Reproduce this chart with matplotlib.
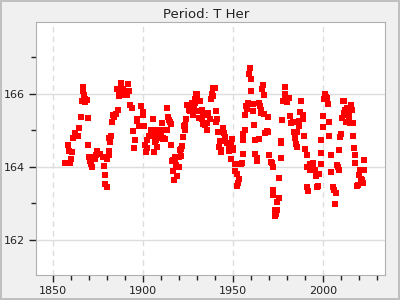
import matplotlib
matplotlib.use("Agg")
import matplotlib.pyplot as plt
from matplotlib.ticker import MultipleLocator

years = [
    1856.7, 1858.3, 1858.9, 1859.7, 1859.5, 1860.6, 1861.1, 1861.9, 1863.0, 1864.0,
    1864.5, 1865.6, 1866.0, 1866.7, 1866.7, 1866.8, 1867.4, 1867.5, 1868.7, 1869.3,
    1869.3, 1870.0, 1870.4, 1870.8, 1871.5, 1871.9, 1873.0, 1873.7, 1874.5, 1876.0,
    1877.4, 1878.2, 1879.0, 1879.0, 1879.8, 1879.3, 1880.0, 1880.7, 1881.1, 1881.1,
    1881.5, 1882.2, 1882.6, 1883.3, 1884.0, 1884.8, 1885.5, 1885.9, 1886.3, 1886.6,
    1887.8, 1888.9, 1889.3, 1890.7, 1891.5, 1892.2, 1892.6, 1893.7, 1894.5, 1894.8,
    1895.6, 1896.3, 1896.7, 1897.8, 1898.9, 1898.9, 1899.6, 1900.0, 1900.4, 1901.1,
    1901.5, 1901.9, 1902.2, 1903.0, 1904.1, 1904.1, 1905.2, 1905.6, 1905.9, 1906.3,
    1906.7, 1907.0, 1907.8, 1908.5, 1908.9, 1909.9, 1910.0, 1910.2, 1910.4, 1911.1,
    1911.2, 1911.9, 1912.6, 1913.0, 1913.0, 1913.7, 1913.9, 1914.4, 1914.9, 1915.2,
    1915.6, 1915.9, 1916.3, 1916.7, 1917.0, 1917.4, 1917.6, 1917.8, 1918.1, 1918.9,
    1919.5, 1919.6, 1920.0, 1920.4, 1920.8, 1921.1, 1921.5, 1921.9, 1922.3, 1922.6,
    1923.0, 1923.2, 1923.7, 1924.4, 1924.5, 1925.2, 1925.9, 1926.0, 1927.0, 1927.4,
    1927.8, 1928.1, 1928.6, 1928.9, 1929.3, 1929.6, 1930.0, 1930.7, 1930.8, 1931.1,
    1931.5, 1932.4, 1932.4, 1933.0, 1933.4, 1933.7, 1934.3, 1934.5, 1935.2, 1935.6,
    1936.1, 1936.2, 1937.1, 1937.8, 1938.0, 1938.6, 1938.9, 1939.6, 1940.4, 1940.8,
    1940.4, 1941.5, 1942.6, 1942.2, 1943.0, 1943.4, 1944.5, 1944.8, 1945.2, 1945.6,
    1946.3, 1947.4, 1947.8, 1948.5, 1949.3, 1949.6, 1950.0, 1948.5, 1950.8, 1951.1,
    1951.9, 1952.2, 1952.6, 1953.4, 1954.1, 1954.8, 1955.2, 1955.2, 1955.6, 1956.3,
    1956.7, 1957.1, 1957.8, 1958.4, 1958.9, 1959.5, 1960.0, 1960.0, 1960.8, 1961.1,
    1961.5, 1962.2, 1962.2, 1963.0, 1963.4, 1964.1, 1964.5, 1964.8, 1965.2, 1965.6,
    1966.1, 1966.7, 1967.1, 1967.1, 1967.8, 1968.5, 1969.5, 1969.5, 1970.0, 1970.8,
    1971.5, 1971.9, 1972.2, 1972.2, 1973.0, 1973.4, 1973.7, 1974.5, 1974.5, 1975.2,
    1975.6, 1976.3, 1976.7, 1976.7, 1977.2, 1977.8, 1978.7, 1978.9, 1978.9, 1980.0,
    1981.1, 1981.5, 1982.2, 1983.0, 1983.7, 1984.1, 1984.8, 1985.2, 1985.6, 1986.3,
    1986.7, 1987.0, 1987.8, 1988.5, 1988.9, 1989.3, 1990.0, 1990.8, 1991.1, 1991.1,
    1991.7, 1992.6, 1992.6, 1993.4, 1994.1, 1994.5, 1995.2, 1995.9, 1996.3, 1997.0,
    1997.8, 1998.5, 1998.5, 1998.9, 1999.6, 2000.0, 2000.4, 2000.9, 2001.5, 2002.2,
    2002.8, 2003.4, 2003.4, 2004.1, 2004.5, 2005.2, 2005.9, 2006.7, 2007.1, 2007.8,
    2008.2, 2008.5, 2008.9, 2009.3, 2010.0, 2010.4, 2010.8, 2011.5, 2011.5, 2012.2,
    2012.6, 2013.0, 2013.4, 2014.1, 2014.5, 2014.8, 2015.6, 2015.8, 2016.3, 2016.7,
    2017.2, 2017.8, 2017.8, 2018.5, 2019.3, 2020.0, 2020.4, 2020.7, 2021.5, 2022.2,
    2022.6, 2022.8,
]
period = [
    164.09, 164.58, 164.43, 164.21, 164.10, 164.40, 164.78, 164.92, 164.85, 164.84,
    165.05, 165.36, 165.80, 166.17, 166.06, 165.95, 165.85, 165.77, 165.83, 165.34,
    164.58, 164.25, 164.16, 164.07, 163.99, 164.27, 164.22, 164.32, 164.44, 164.34,
    164.25, 164.03, 163.78, 163.52, 163.43, 164.25, 164.21, 164.31, 164.43, 164.77,
    164.67, 164.84, 165.22, 165.40, 165.36, 165.45, 166.13, 165.54, 165.93, 166.05,
    166.30, 166.13, 165.97, 165.97, 166.25, 166.06, 165.70, 165.60, 164.98, 164.50,
    164.72, 165.25, 165.30, 165.10, 165.66, 165.10, 165.49, 165.42, 165.10, 164.58,
    164.40, 164.52, 164.74, 164.85, 164.92, 165.00, 164.85, 165.30, 164.40, 165.00,
    164.67, 164.74, 164.53, 164.85, 164.79, 164.96, 165.00, 165.19, 165.20, 164.76,
    164.77, 164.76, 165.00, 165.60, 165.00, 165.36, 165.37, 165.28, 165.23, 165.17,
    164.58, 164.16, 164.18, 163.88, 163.64, 164.25, 164.22, 164.14, 164.04, 163.74,
    163.99, 163.99, 164.26, 164.45, 164.29, 164.47, 164.56, 164.81, 164.82, 165.10,
    165.00, 165.14, 165.30, 165.68, 165.69, 165.56, 165.65, 165.51, 165.74, 165.42,
    165.42, 165.57, 165.74, 165.85, 166.00, 165.99, 165.88, 165.52, 165.79, 165.33,
    165.79, 165.56, 165.30, 165.42, 165.17, 165.19, 165.14, 165.15, 165.19, 165.01,
    165.40, 165.46, 165.30, 165.84, 165.98, 166.15, 165.93, 166.15, 165.53, 165.30,
    165.21, 164.95, 164.69, 164.55, 164.46, 164.41, 165.05, 164.92, 164.81, 164.69,
    164.66, 164.55, 164.44, 164.60, 164.75, 164.50, 164.46, 164.20, 164.06, 163.88,
    163.81, 163.46, 163.56, 163.65, 164.07, 164.09, 164.34, 164.73, 164.90, 164.99,
    165.42, 165.65, 165.58, 165.74, 166.54, 166.71, 166.41, 166.08, 165.72, 165.51,
    165.14, 164.73, 164.34, 164.24, 164.15, 164.75, 165.74, 165.65, 165.54, 165.47,
    166.13, 166.24, 165.97, 165.45, 164.92, 164.97, 164.96, 165.36, 164.31, 164.13,
    164.11, 164.00, 163.35, 163.23, 162.80, 162.66, 162.71, 162.82, 163.02, 163.13,
    163.68, 164.23, 164.71, 164.64, 165.28, 165.80, 165.88, 166.19, 166.00, 165.76,
    165.87, 165.39, 165.19, 165.21, 164.95, 164.78, 164.62, 164.53, 164.95, 165.10,
    165.24, 165.50, 165.80, 165.42, 165.30, 164.83, 164.48, 164.33, 163.98, 163.45,
    163.32, 164.07, 163.91, 163.98, 164.09, 164.00, 163.91, 163.74, 163.43, 163.46,
    163.81, 164.07, 164.38, 164.73, 165.08, 165.38, 165.84, 165.98, 165.91, 165.88,
    165.72, 165.22, 164.83, 164.31, 163.86, 163.43, 163.35, 162.99, 163.29, 164.04,
    163.98, 163.91, 164.46, 164.81, 164.88, 165.34, 165.80, 165.80, 165.47, 165.56,
    165.21, 165.61, 165.40, 165.47, 165.33, 165.19, 165.70, 165.56, 165.19, 164.83,
    164.50, 164.33, 164.09, 163.46, 163.49, 163.77, 163.92, 163.67, 163.63, 163.54,
    163.91, 164.18,
]

fig = plt.figure(figsize=(4, 3), dpi=100, facecolor="#f0f0f0",
                 edgecolor="#c0c0c0", linewidth=1.5)
ax = fig.add_axes([0.09, 0.083, 0.8725, 0.845])
ax.set_facecolor("white")

ax.scatter(years, period, marker="s", s=18, color="#ff0000", linewidths=0, zorder=3)

ax.set_xlim(1840.4, 2034.3)
ax.set_ylim(161.03, 167.97)
ax.xaxis.set_major_locator(MultipleLocator(50))
ax.xaxis.set_minor_locator(MultipleLocator(10))
ax.yaxis.set_major_locator(MultipleLocator(2))
ax.yaxis.set_minor_locator(MultipleLocator(1))

ax.grid(True, axis="y", which="major", color="#dddddd", linewidth=1)
ax.grid(True, axis="x", which="major", color="#dddddd", linewidth=1, linestyle=(0, (4, 3)))
ax.set_axisbelow(True)

for s in ax.spines.values():
    s.set_color("#b0b0b0")

ax.tick_params(which="major", direction="out", length=5, width=1, color="#222222",
               labelsize=8, labelcolor="#222222", pad=3, top=False, right=False)
ax.tick_params(which="minor", direction="out", length=3.5, width=1, color="#222222",
               top=False, right=False)

fig.suptitle("Period: T Her", x=0.515, y=0.975, fontsize=9.5, color="#222222")

fig.savefig("out.png", dpi=100, facecolor=fig.get_facecolor(), edgecolor=fig.get_edgecolor())
